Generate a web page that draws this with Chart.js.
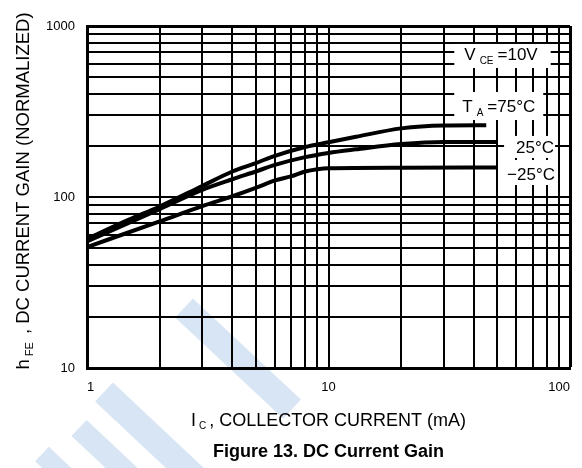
<!DOCTYPE html>
<html>
<head>
<meta charset="utf-8">
<script src="https://cdn.jsdelivr.net/npm/chart.js@4.4.1/dist/chart.umd.min.js"></script>
<style>
  html, body { margin: 0; padding: 0; background: #fff; }
  canvas { display: block; }
</style>
</head>
<body>
<canvas id="gain" width="582" height="468"></canvas>
<script>
// Normalized DC current gain vs collector current (mA), one list per ambient temperature
const ic75 = [1, 1.5, 2, 3, 4, 5, 6, 8, 10, 13, 20, 30, 45];
const hfe75 = [57, 74, 88, 116, 141, 158, 174, 196, 209, 225, 252, 262, 263];

const ic25 = [1, 2, 3, 4, 5, 6, 8, 10, 13, 20, 30, 50];
const hfe25 = [55, 85, 110, 127, 141, 154, 171, 181, 190, 204, 210, 210];

const icM25 = [1, 2, 3, 4, 5, 6, 7, 8, 9, 10, 20, 50];
const hfeM25 = [51, 72, 88.5, 101, 113, 125, 132, 141, 145.5, 147.5, 148.5, 149];

// Log-paper grid lines and the decade labels shown on each axis
const xGridValues = [1, 2, 3, 4, 5, 6, 7, 8, 9, 10, 20, 30, 40, 50, 60, 70, 80, 90, 100];
const yGridValues = [10, 20, 30, 40, 50, 60, 70, 80, 90, 100, 200, 300, 400, 500, 600, 700, 800, 900, 1000];
const xTickLabels = [1, 10, 100];
const yTickLabels = [10, 100, 1000];

const FONT = "'Liberation Sans', Arial, Helvetica, sans-serif";

// Condition / curve labels, anchored at (current, gain) positions on the plot
const curveNotes = [
  { x: 36.5, y: 633, parts: [['V'], ['CE', true], ['=10V']], padL: 10, padR: 13, padT: 16, padB: 8 },
  { x: 35.8, y: 314, parts: [['T'], ['A', true], ['=75°C']], padL: 8, padR: 8, padT: 20, padB: 8 },
  { x: 59.8, y: 181, parts: [['25°C']], padL: 12, padR: 1, padT: 17, padB: 5 },
  { x: 54.9, y: 125.7, parts: [['\u221225°C']], padL: 8, padR: 1, padT: 20, padB: 5 }
];

// Faint diagonal bands of the background mark
const bands = [
  [184, 308, 292, 409, 26],
  [104, 392, 204, 486, 26],
  [79, 428, 160, 504, 22],
  [42, 454, 82, 492, 20]
];

function partFont(p, size, subSize, bold) {
  return (bold ? 'bold ' : '') + (p[1] ? subSize : size) + 'px ' + FONT;
}

function measureParts(ctx, parts, size, subSize, gap) {
  let w = 0;
  parts.forEach((p, i) => {
    ctx.font = partFont(p, size, subSize);
    w += ctx.measureText(p[0]).width;
    if (i < parts.length - 1) w += gap;
  });
  return w;
}

// Draws text runs left to right; subscript runs are smaller and dropped below the baseline
function drawParts(ctx, parts, x, y, size, subSize, gap, drop) {
  let cx = x;
  ctx.textBaseline = 'alphabetic';
  ctx.textAlign = 'left';
  parts.forEach((p, i) => {
    ctx.font = partFont(p, size, subSize);
    ctx.fillText(p[0], cx, p[1] ? y + drop : y);
    cx += ctx.measureText(p[0]).width;
    if (i < parts.length - 1) cx += gap;
  });
}

const figureText = {
  id: 'figureText',
  beforeDraw(chart) {
    const { ctx, width, height } = chart;
    ctx.save();
    ctx.fillStyle = '#ffffff';
    ctx.fillRect(0, 0, width, height);
    ctx.strokeStyle = 'rgb(216, 229, 245)';
    ctx.lineCap = 'butt';
    bands.forEach(([x1, y1, x2, y2, w]) => {
      ctx.lineWidth = w;
      ctx.beginPath();
      ctx.moveTo(x1, y1);
      ctx.lineTo(x2, y2);
      ctx.stroke();
    });
    ctx.restore();
  },
  beforeDatasetsDraw(chart) {
    const { ctx, scales } = chart;
    ctx.save();
    curveNotes.forEach(n => {
      const px = scales.x.getPixelForValue(n.x);
      const py = scales.y.getPixelForValue(n.y);
      const w = measureParts(ctx, n.parts, 17, 10, 4);
      ctx.fillStyle = '#ffffff';
      ctx.fillRect(px - n.padL, py - n.padT, w + n.padL + n.padR, n.padT + n.padB);
      ctx.fillStyle = '#000000';
      drawParts(ctx, n.parts, px, py, 17, 10, 4, 4);
    });
    ctx.restore();
  },
  afterDraw(chart) {
    const { ctx, chartArea } = chart;
    ctx.save();
    ctx.fillStyle = '#000000';

    // Vertical axis title, reading upward
    const yTitle = [['h'], ['FE', true], [' , DC CURRENT GAIN (NORMALIZED)']];
    const yw = measureParts(ctx, yTitle, 18.5, 11, 3);
    ctx.translate(chartArea.left - 58.5, (chartArea.top + chartArea.bottom) / 2 - 6);
    ctx.rotate(-Math.PI / 2);
    drawParts(ctx, yTitle, -yw / 2, 0, 18.5, 11, 3, 4);
    ctx.setTransform(1, 0, 0, 1, 0, 0);

    // Horizontal axis title
    const xTitle = [['I'], ['C', true], [', COLLECTOR CURRENT (mA)']];
    const xw = measureParts(ctx, xTitle, 18, 10, 3);
    const cx = (chartArea.left + chartArea.right) / 2;
    drawParts(ctx, xTitle, cx - xw / 2, chartArea.bottom + 58, 18, 10, 3, 3);

    // Figure caption
    ctx.font = 'bold 18px ' + FONT;
    ctx.textAlign = 'center';
    ctx.textBaseline = 'alphabetic';
    ctx.fillText('Figure 13. DC Current Gain', cx, chartArea.bottom + 89);
    ctx.restore();
  }
};

function toPoints(xs, ys) {
  return xs.map((x, i) => ({ x: x, y: ys[i] }));
}

const curveStyle = {
  borderColor: '#000000',
  borderWidth: 4,
  pointRadius: 0,
  fill: false,
  cubicInterpolationMode: 'monotone'
};

new Chart(document.getElementById('gain'), {
  type: 'line',
  data: {
    datasets: [
      Object.assign({ label: 'T_A = 75°C', data: toPoints(ic75, hfe75) }, curveStyle),
      Object.assign({ label: 'T_A = 25°C', data: toPoints(ic25, hfe25) }, curveStyle),
      Object.assign({ label: 'T_A = \u221225°C', data: toPoints(icM25, hfeM25) }, curveStyle)
    ]
  },
  options: {
    responsive: false,
    animation: false,
    devicePixelRatio: 1,
    layout: { padding: { top: 26, right: 11, left: 0, bottom: 0 } },
    plugins: {
      legend: { display: false },
      tooltip: { enabled: false }
    },
    scales: {
      x: {
        type: 'logarithmic',
        min: 1,
        max: 100,
        afterBuildTicks: s => { s.ticks = xGridValues.map(v => ({ value: v })); },
        afterFit: s => { s.height = 100; },
        grid: {
          color: '#000000',
          lineWidth: c => (c.tick && c.tick.value === 100 ? 3 : 2),
          drawTicks: false
        },
        border: { display: true, color: '#000000', width: 3 },
        ticks: {
          autoSkip: false,
          maxRotation: 0,
          align: 'inner',
          padding: 12,
          color: '#000000',
          font: { family: FONT, size: 13 },
          callback: v => (xTickLabels.includes(v) ? String(v) : '')
        }
      },
      y: {
        type: 'logarithmic',
        min: 10,
        max: 1000,
        afterBuildTicks: s => { s.ticks = yGridValues.map(v => ({ value: v })); },
        afterFit: s => { s.width = 87; },
        grid: {
          color: '#000000',
          lineWidth: c => (c.tick && c.tick.value === 1000 ? 3 : 2),
          drawTicks: false
        },
        border: { display: true, color: '#000000', width: 3 },
        ticks: {
          autoSkip: false,
          padding: 12,
          color: '#000000',
          font: { family: FONT, size: 13 },
          callback: v => (yTickLabels.includes(v) ? String(v) : '')
        }
      }
    }
  },
  plugins: [figureText]
});
</script>
</body>
</html>
